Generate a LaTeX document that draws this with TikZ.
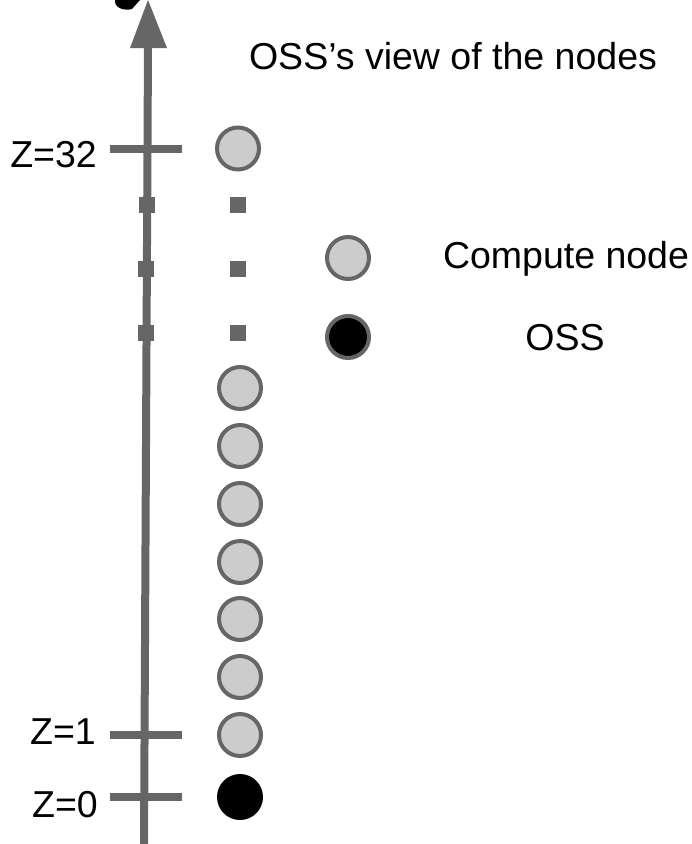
\documentclass[tikz,border=0pt]{standalone}
\usepackage{fontspec}
\setmainfont{Liberation Sans}
\begin{document}
\begin{tikzpicture}[x=1pt,y=-1pt,
  axisline/.style={draw=axgray,line width=8pt},
  cnode/.style={circle,draw=axgray,fill=nodegray,line width=4pt,minimum size=42pt,inner sep=0pt},
  ossnode/.style={circle,fill=black,minimum size=46pt,inner sep=0pt},
  ossleg/.style={circle,draw=axgray,fill=black,line width=4pt,minimum size=42pt,inner sep=0pt},
  dotsq/.style={fill=axgray,minimum size=16pt,inner sep=0pt},
  lbl/.style={font=\fontsize{37.5}{44}\selectfont,inner sep=0pt}]
\definecolor{axgray}{HTML}{666666}
\definecolor{nodegray}{HTML}{CCCCCC}
\useasboundingbox (0,0) rectangle (692,844);
% partial black glyph at top
\fill[black] (115,0) .. controls (114,8) and (124,11) .. (132,9) -- (140,0) -- cycle;
% axis
\coordinate (atop) at (148,46);
\coordinate (abot) at (144,844);
\draw[axisline] (abot) -- (atop);
\fill[axgray] (130,48) -- (148,0) -- (167,48) -- cycle;
% ticks
\coordinate (t32a) at (110,148.5); \coordinate (t32b) at (182,148.5);
\coordinate (t1a) at (110,735); \coordinate (t1b) at (182,735);
\coordinate (t0a) at (110,797); \coordinate (t0b) at (182,797);
\draw[axisline] (t32a) -- (t32b);
\draw[axisline] (t1a) -- (t1b);
\draw[axisline] (t0a) -- (t0b);
% axis squares
\node[dotsq] (as1) at (146.5,205) {};
\node[dotsq] (as2) at (146,269) {};
\node[dotsq] (as3) at (146,333) {};
% column squares
\node[dotsq] (cs1) at (238,205) {};
\node[dotsq] (cs2) at (238,269) {};
\node[dotsq] (cs3) at (238,333) {};
% labels
\node[lbl,anchor=base east] (z32) at (97,167) {Z=32};
\node[lbl,anchor=base east] (z1) at (96,744) {Z=1};
\node[lbl,anchor=base east] (z0) at (98,817) {Z=0};
\node[lbl,anchor=base] (title) at (453,69) {OSS’s view of the nodes};
\node[lbl,anchor=base] (lc) at (566,268) {Compute node};
\node[lbl,anchor=base] (lo) at (565,350) {OSS};
% nodes
\node[cnode] (n32) at (238,148.5) {};
\node[cnode] (n7) at (240,388) {};
\node[cnode] (n6) at (240,446) {};
\node[cnode] (n5) at (240,504) {};
\node[cnode] (n4) at (240,562) {};
\node[cnode] (n3) at (240,619) {};
\node[cnode] (n2) at (240,677) {};
\node[cnode] (n1) at (240,735) {};
\node[ossnode] (n0) at (240,797) {};
% legend
\node[cnode] (legc) at (348,258) {};
\node[ossleg] (lego) at (348,337) {};
\end{tikzpicture}
\end{document}
